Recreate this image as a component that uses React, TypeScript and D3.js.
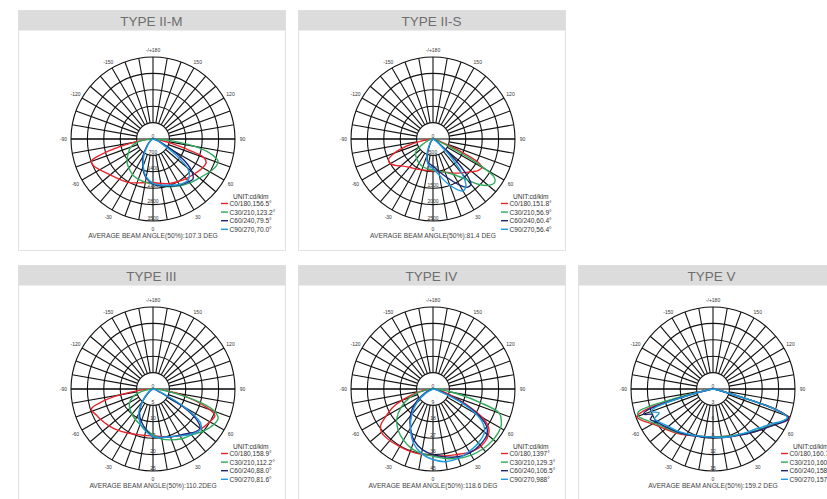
import React from 'react';
import * as d3 from 'd3';

type Pt = [number, number];

const TITLES = ['TYPE II-M', 'TYPE II-S', 'TYPE III', 'TYPE IV', 'TYPE V'];
const BEAM_TEXTS = [
  'AVERAGE BEAM ANGLE(50%):107.3 DEG',
  'AVERAGE BEAM ANGLE(50%):81.4 DEG',
  'AVERAGE BEAM ANGLE(50%):110.2DEG',
  'AVERAGE BEAM ANGLE(50%):118.6 DEG',
  'AVERAGE BEAM ANGLE(50%):159.2 DEG',
];
const RADIAL_TICKS = [
  [700, 1400, 2100, 2800, 3500],
  [500, 1000, 1500, 2000, 2500],
  [5, 10, 15, 20, 25],
  [9, 18, 27, 36, 45],
  [3, 6, 9, 12, 15],
];
const ANGLE_LABELS: [number, string][] = [
  [0, '0'], [30, '30'], [60, '60'], [90, '90'], [120, '120'], [150, '150'],
  [180, '-/+180'], [-150, '-150'], [-120, '-120'], [-90, '-90'], [-60, '-60'], [-30, '-30'],
];
const UNIT_TEXT = 'UNIT:cd/klm';
const LEGENDS = [
  ['C0/180,156.5°', 'C30/210,123.2°', 'C60/240,79.5°', 'C90/270,70.0°'],
  ['C0/180,151.8°', 'C30/210,56.9°', 'C60/240,60.4°', 'C90/270,56.4°'],
  ['C0/180,158.9°', 'C30/210,112.2°', 'C60/240,88.0°', 'C90/270,81.6°'],
  ['C0/180,1397°', 'C30/210,129.3°', 'C60/240,106.5°', 'C90/270,988°'],
  ['C0/180,160.7°', 'C30/210,160.3°', 'C60/240,158.4°', 'C90/270,157.5°'],
];
const SERIES_COLORS = ['#e8232b', '#2eaa5c', '#1c2878', '#1e9ae0'];

// ---- TYPE II-M (cd/klm) ----
const IIM_C0: Pt[] = [[-90,0],[-85,280],[-80,875],[-75,1925],[-70,2800],[-65,2765],[-60,2625],[-50,2380],[-40,2240],[-30,2135],[-20,1995],[-10,1890],[0,1855],[10,1925],[20,2030],[30,2100],[40,2205],[50,2310],[60,2450],[66,2485],[70,2310],[73,1575],[76,875],[80,420],[85,140],[90,0]];
const IIM_C30: Pt[] = [[-90,0],[-85,280],[-80,595],[-75,840],[-70,1015],[-63,1155],[-55,1330],[-47,1505],[-35,1680],[-27,1785],[-15,1855],[0,1925],[15,2100],[30,2310],[40,2450],[50,2590],[60,2800],[67,2940],[71,2940],[75,2625],[79,2030],[84,875],[87,350],[90,0]];
const IIM_C60: Pt[] = [[-90,0],[-70,70],[-60,105],[-50,210],[-40,420],[-30,875],[-20,1260],[-15,1505],[-10,1680],[0,1925],[10,2030],[20,2135],[30,2275],[40,2380],[45,2415],[50,2170],[55,1680],[60,980],[65,420],[70,210],[80,70],[90,0]];
const IIM_C90: Pt[] = [[-90,0],[-60,70],[-50,175],[-40,350],[-30,770],[-20,1225],[-10,1645],[0,1890],[10,1995],[20,2100],[30,2240],[40,2310],[45,2205],[50,1925],[55,1225],[60,525],[70,175],[90,0]];

// ---- TYPE II-S ----
const IIS_C0: Pt[] = [[-90,0],[-80,375],[-75,825],[-70,1250],[-65,1500],[-60,1500],[-55,1400],[-50,1275],[-40,1125],[-30,1050],[-20,1000],[-10,975],[0,975],[10,1000],[20,1075],[30,1200],[40,1350],[50,1550],[55,1675],[60,1725],[63,1500],[66,875],[70,300],[80,75],[90,0]];
const IIS_C30: Pt[] = [[-90,0],[-80,100],[-70,200],[-60,450],[-55,625],[-50,700],[-40,775],[-30,850],[-20,900],[-10,925],[0,950],[10,1000],[20,1075],[30,1250],[40,1625],[45,1950],[50,2200],[55,2300],[58,2200],[61,1625],[64,750],[68,250],[80,50],[90,0]];
const IIS_C60: Pt[] = [[-90,0],[-40,75],[-30,200],[-20,500],[-15,675],[-10,750],[0,825],[10,1000],[20,1250],[30,1625],[35,1800],[40,1800],[45,1250],[50,500],[55,200],[70,50],[90,0]];
const IIS_C90: Pt[] = [[-90,0],[-40,100],[-30,250],[-20,550],[-10,800],[0,900],[10,1125],[20,1500],[30,1825],[35,1750],[40,1375],[45,750],[50,250],[60,75],[90,0]];

// ---- TYPE III ----
const III_C0: Pt[] = [[-90,0],[-85,3.75],[-80,10],[-76,16],[-72,19.75],[-65,19],[-60,18.5],[-50,17.5],[-40,16.5],[-30,15.5],[-20,14.75],[-10,14.4],[0,14.25],[10,14.75],[20,15.5],[30,16.5],[40,17.75],[50,19],[60,20],[67,20.5],[72,16.25],[78,9.25],[85,3],[90,0]];
const III_C30: Pt[] = [[-90,0],[-80,2.5],[-70,6.25],[-60,8.25],[-50,9.25],[-40,10],[-30,10.75],[-20,11.5],[-10,12.5],[0,14],[10,15.5],[20,16.5],[30,17.5],[40,18.25],[50,20],[60,21.5],[66,21.75],[70,20],[73,17],[79,7],[85,2.5],[90,0]];
const III_C60: Pt[] = [[-90,0],[-60,0.75],[-50,2],[-40,5],[-30,8.25],[-20,10.5],[-10,12.5],[0,14.5],[10,15],[20,15.5],[30,16.25],[40,17.5],[45,18.5],[50,18.75],[55,16.25],[60,10],[65,2.5],[75,0.75],[90,0]];
const III_C90: Pt[] = [[-90,0],[-60,1],[-50,2.5],[-40,5],[-30,8.75],[-20,11.25],[-10,13],[0,14.5],[10,15],[20,15.5],[30,16.5],[40,18],[50,19],[55,17.5],[60,11.25],[65,3.75],[75,0.75],[90,0]];

// ---- TYPE IV ----
const IV_C0: Pt[] = [[-90,0],[-80,6.75],[-70,18],[-65,24.75],[-60,29.7],[-55,35.1],[-50,36.9],[-40,36.9],[-30,36.45],[-20,36.45],[-10,36.45],[0,36.45],[10,37.35],[20,38.25],[30,40.05],[40,40.95],[50,39.6],[55,37.35],[60,31.5],[65,20.25],[70,11.25],[80,3.6],[90,0]];
const IV_C30: Pt[] = [[-90,0],[-80,4.5],[-70,13.5],[-60,20.25],[-50,26.1],[-45,27.9],[-40,29.7],[-30,32.4],[-20,34.65],[-10,36],[0,36.9],[10,38.7],[20,40.5],[30,41.9],[40,42.8],[50,43.2],[60,42.8],[65,41.4],[70,38.7],[74,27],[78,15.75],[85,4.5],[90,0]];
const IV_C60: Pt[] = [[-90,0],[-70,2.25],[-60,6.75],[-50,13.5],[-40,19.35],[-30,24.75],[-20,30.15],[-10,33.75],[0,36],[10,37.8],[20,39.6],[30,40.5],[40,40.05],[50,38.7],[55,36],[60,29.25],[65,18],[70,6.75],[80,1.8],[90,0]];
const IV_C90: Pt[] = [[-90,0],[-60,4.5],[-50,11.25],[-40,18],[-30,24.75],[-20,31.5],[-10,36],[0,38.7],[10,40.5],[20,40.5],[30,39.6],[40,38.7],[50,36.9],[55,33.75],[60,27],[65,15.75],[70,4.5],[80,1.35],[90,0]];

// ---- TYPE V ----
const V_C0: Pt[] = [[-90,0],[-80,0.75],[-76,4.5],[-73,12.75],[-70,14.85],[-65,13.95],[-60,12.75],[-55,12],[-50,11.4],[-40,10.5],[-30,9.75],[-20,9.15],[-10,8.85],[0,8.7],[10,8.85],[20,9.15],[30,9.75],[40,10.5],[50,11.55],[60,13.05],[65,14.25],[69,15],[72,12],[75,3],[80,0.75],[90,0]];
const V_C30: Pt[] = [[-90,0],[-80,0.9],[-76,7.5],[-73,14.25],[-70,14.55],[-65,13.5],[-60,12.45],[-50,11.1],[-40,10.35],[-30,9.6],[-20,9.15],[-10,8.85],[0,8.78],[10,8.85],[20,9.15],[30,9.6],[40,10.35],[50,11.4],[60,12.9],[65,13.95],[69,14.7],[72,12],[75,3],[80,0.75],[90,0]];
const V_C60: Pt[] = [[-90,0],[-80,0.75],[-75,6],[-72,12.75],[-70,13.5],[-67,12],[-64,12.75],[-60,12],[-50,10.95],[-40,10.2],[-30,9.6],[-20,9.15],[-10,8.93],[0,8.85],[10,9],[20,9.3],[30,9.75],[40,10.5],[50,11.55],[60,13.05],[65,14.25],[69,14.85],[72,12],[75,3],[80,0.75],[90,0]];
const V_C90: Pt[] = [[-90,0],[-80,0.75],[-75,5.25],[-72,11.25],[-70,12],[-66,10.8],[-63,12],[-60,11.7],[-50,10.65],[-40,10.05],[-30,9.45],[-20,9.08],[-10,8.85],[0,8.78],[10,9],[20,9.3],[30,9.6],[40,10.2],[48,10.8],[50,11.1],[60,12.6],[65,13.95],[69,14.55],[72,11.7],[75,3],[80,0.75],[90,0]];

const SERIES: Pt[][][] = [
  [IIM_C0, IIM_C30, IIM_C60, IIM_C90],
  [IIS_C0, IIS_C30, IIS_C60, IIS_C90],
  [III_C0, III_C30, III_C60, III_C90],
  [IV_C0, IV_C30, IV_C60, IV_C90],
  [V_C0, V_C30, V_C60, V_C90],
];

// layout
const PANEL_POS: [number, number, number][] = [
  [18, 10, 139],
  [298, 10, 139],
  [18, 265, 389],
  [298, 265, 389],
  [578, 265, 389],
];
const PANEL_W = 267;
const R = 82;
const FONT = '"Liberation Sans", Arial, sans-serif';

function Polar({ idx }: { idx: number }) {
  const [px, py, cyAbs] = PANEL_POS[idx];
  const cx = px + 135;
  const cy = cyAbs;
  const ticks = RADIAL_TICKS[idx];
  const maxV = ticks[ticks.length - 1];
  const r = d3.scaleLinear().domain([0, maxV]).range([0, R]);
  const rInner = r(ticks[0]);
  const line = d3
    .lineRadial<Pt>()
    .angle((d) => Math.PI - (d[0] * Math.PI) / 180)
    .radius((d) => r(d[1]))
    .curve(d3.curveCatmullRom.alpha(0.5));
  const spokes = d3.range(0, 360, 10);
  const pos = (deg: number, rad: number) => {
    const a = (deg * Math.PI) / 180;
    return [rad * Math.sin(a), rad * Math.cos(a)];
  };
  const bottom = idx < 2 ? 250 : 520;
  return (
    <g>
      <rect x={px + 0.5} y={py + 0.5} width={PANEL_W} height={bottom - py} fill="#fff" stroke="#e2e2e2" strokeWidth={1} />
      <rect x={px + 0.5} y={py + 0.5} width={PANEL_W} height={20} fill="#dcdcdc" />
      <text x={px + PANEL_W / 2} y={py + 15.5} textAnchor="middle" fontFamily={FONT} fontSize={13.5} fill="#6e6e6e">
        {TITLES[idx]}
      </text>
      <g transform={`translate(${cx},${cy})`}>
        {ticks.map((t) => (
          <circle key={t} r={r(t)} fill="none" stroke="#111" strokeWidth={1.1} />
        ))}
        {spokes.map((s) => {
          const [x1, y1] = pos(s, rInner);
          const [x2, y2] = pos(s, R);
          return <line key={s} x1={x1} y1={y1} x2={x2} y2={y2} stroke="#111" strokeWidth={1.1} />;
        })}
        <line x1={-R} y1={0} x2={R} y2={0} stroke="#000" strokeWidth={1.2} />
        {ANGLE_LABELS.map(([a, label]) => {
          const [x, y] = pos(a, R + 7.5);
          return (
            <text key={label} x={x} y={y} textAnchor="middle" dominantBaseline="central" fontFamily={FONT} fontSize={5} fill="#333">
              {label}
            </text>
          );
        })}
        <text x={0} y={-3} textAnchor="middle" dominantBaseline="central" fontFamily={FONT} fontSize={5} fill="#333">0</text>
        {ticks.map((t) => (
          <text key={'l' + t} x={0} y={r(t) - 3.5} textAnchor="middle" dominantBaseline="central" fontFamily={FONT} fontSize={5} fill="#333">
            {t}
          </text>
        ))}
        {SERIES[idx].map((s, i) => (
          <path key={i} d={line(s) || ''} fill="none" stroke={SERIES_COLORS[i]} strokeWidth={1.4} />
        ))}
        <text x={80} y={57} fontFamily={FONT} fontSize={6.6} fill="#333" dominantBaseline="central">{UNIT_TEXT}</text>
        {LEGENDS[idx].map((l, i) => (
          <g key={l}>
            <line x1={68} x2={75} y1={64.5 + i * 8.6} y2={64.5 + i * 8.6} stroke={SERIES_COLORS[i]} strokeWidth={1.4} />
            <text x={76.5} y={64.5 + i * 8.6} fontFamily={FONT} fontSize={6.6} fill="#333" dominantBaseline="central">{l}</text>
          </g>
        ))}
        <text x={0} y={96.5} textAnchor="middle" dominantBaseline="central" fontFamily={FONT} fontSize={6.7} fill="#444">
          {BEAM_TEXTS[idx]}
        </text>
      </g>
    </g>
  );
}

export default function App() {
  return (
    <svg width={827} height={499} style={{ position: 'absolute', left: 0, top: 0, background: '#fff' }}>
      <rect width={827} height={499} fill="#fff" />
      {TITLES.map((_, i) => (
        <Polar key={i} idx={i} />
      ))}
    </svg>
  );
}
